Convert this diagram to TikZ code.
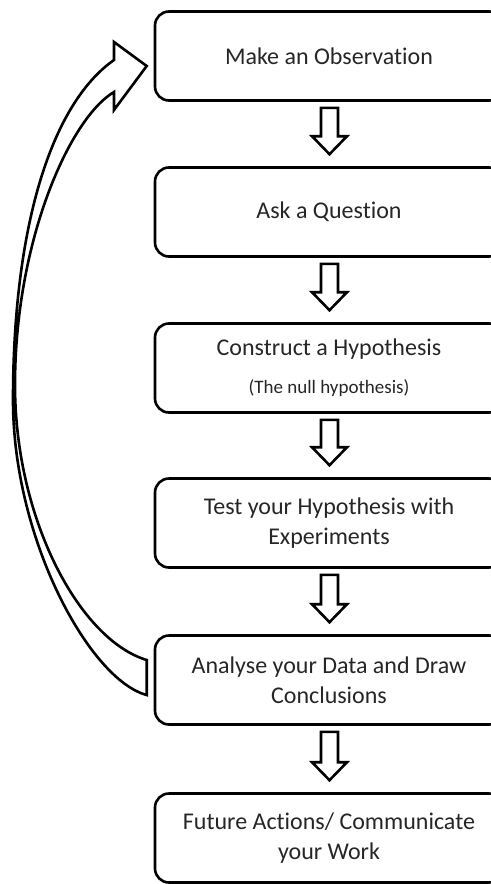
\documentclass[tikz,border=0pt]{standalone}
\usepackage{fontspec}
\setmainfont[Ligatures=NoCommon]{Carlito}
\usetikzlibrary{calc}
\tikzset{
	stepbox/.style={rectangle,rounded corners=7pt,draw=black,line width=1.3pt,minimum width=174pt,minimum height=44.5pt,inner sep=2pt,align=center,text=black!85,font=\fontsize{12}{15}\selectfont},
	blockarrow/.style={draw=black,line width=1.3pt,fill=white,line join=miter},
	loopstyle/.style={draw=black,line width=1.3pt,fill=white,line join=miter}
}
\begin{document}
\begin{tikzpicture}[x=0.5pt,y=-0.5pt]
		\useasboundingbox (0,0) rectangle (491,884);
		\node[stepbox] (observe) at (329,56) {Make an Observation};
		\node[stepbox] (question) at (329,212) {Ask a Question};
		\node[stepbox] (hypothesis) at (329,368) {Construct a Hypothesis\\[4pt]{\fontsize{9.5}{11}\selectfont(The null hypothesis)}};
		\node[stepbox] (test) at (329,523) {Test your Hypothesis with\\Experiments};
		\node[stepbox] (analyse) at (329,680) {Analyse your Data and Draw\\Conclusions};
		\node[stepbox] (future) at (329,838) {Future Actions/ Communicate\\your Work};
		% down arrows between the steps
		\foreach \a/\b in {observe/question,question/hypothesis,hypothesis/test,test/analyse,analyse/future}
			\draw[blockarrow] ($(\a.south)+(-8,6)$) -- ($(\b.north)+(-8,-30)$) -- ($(\b.north)+(-17,-30)$)
				-- ($(\b.north)+(0.5,-12)$) -- ($(\b.north)+(18,-30)$) -- ($(\b.north)+(9,-30)$)
				-- ($(\a.south)+(9,6)$) -- cycle;
		% loop back to the start
		\coordinate (tailtop) at ($(analyse.west)+(-7,-20)$);
		\coordinate (tailbottom) at ($(analyse.west)+(-7,15)$);
		\coordinate (looptip) at ($(observe.west)+(-7,10)$);
		\draw[loopstyle] (tailbottom) .. controls (90,680) and (13,540) .. (13,400)
			.. controls (13,230) and (50,105) .. (114,60) -- (114,42) -- (looptip) -- (114,110) -- (114,92)
			.. controls (70,118) and (15,240) .. (15,385)
			.. controls (15,520) and (80,640) .. (tailtop) -- cycle;
\end{tikzpicture}
\end{document}
